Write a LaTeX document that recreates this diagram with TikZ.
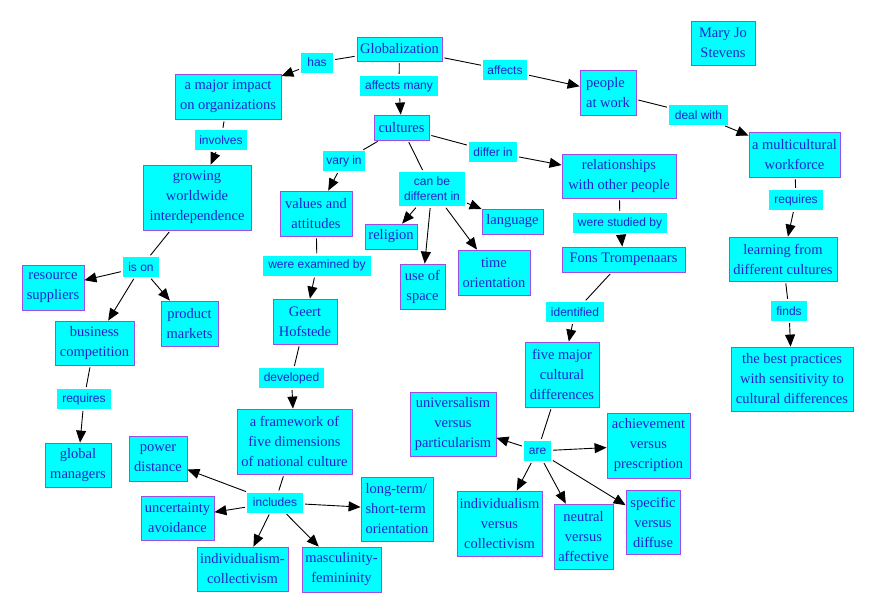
\documentclass[tikz,border=0pt]{standalone}
\usepackage{fontspec}
\setmainfont{Liberation Serif}
\setsansfont{Liberation Sans}
\usetikzlibrary{arrows.meta}
\definecolor{boxfill}{RGB}{0,255,255}
\definecolor{boxline}{RGB}{160,75,230}
\definecolor{txt}{RGB}{35,35,205}
\tikzset{
  concept/.style={draw=boxline, line width=0.8pt, fill=boxfill, text=txt, inner sep=0pt, align=center,
    font=\fontsize{14.5}{20}\selectfont},
  linkph/.style={fill=boxfill, text=txt, inner sep=0pt, minimum height=20pt, align=center,
    font=\sffamily\fontsize{12}{15}\selectfont},
  plain/.style={draw=black, line width=0.9pt, shorten <=2pt, shorten >=2pt},
  arr/.style={draw=black, line width=0.9pt, shorten <=2pt, -{Triangle[length=12pt,width=10pt]}},
  sz/.style n args={2}{minimum width=#1pt, minimum height=#2pt}
}
\begin{document}
\begin{tikzpicture}[x=1pt,y=-1pt]
\useasboundingbox (0,0) rectangle (878,613);
\fill[white] (0,0) rectangle (878,613);
% concepts
\node[concept,sz={85}{24}] (glob) at (399.5,49) {Globalization};
\node[concept,sz={106}{45}] (impact) at (228,96.5) {a major impact\\on organizations};
\node[concept,sz={55}{25}] (cult) at (401.5,127.5) {cultures};
\node[concept,sz={108}{65}] (grow) at (197,197.5) {growing\\worldwide\\interdependence};
\node[concept,sz={72}{45}] (values) at (316,213.5) {values and\\attitudes};
\node[concept,sz={52}{25}] (relig) at (391,236.5) {religion};
\node[concept,sz={61}{25}] (lang) at (512.5,221.5) {language};
\node[concept,sz={45}{45}] (space) at (422.5,286.5) {use of\\space};
\node[concept,sz={72}{45}] (timeo) at (494,272.5) {time\\orientation};
\node[concept,sz={114}{44}] (relat) at (619,176) {relationships\\with other people};
\node[concept,sz={123}{25}] (fons) at (623.5,259.5) {Fons Trompenaars};
\node[concept,sz={56}{45},align=left] (people) at (608,92.5) {people\\at work};
\node[concept,sz={91}{45}] (multi) at (794.5,154.5) {a multicultural\\workforce};
\node[concept,sz={108}{44}] (learn) at (783,259) {learning from\\different cultures};
\node[concept,sz={64}{44}] (mary) at (723,43) {Mary Jo\\Stevens};
\node[concept,sz={122}{64}] (best) at (792,379) {the best practices\\with sensitivity to\\cultural differences};
\node[concept,sz={74}{65}] (five) at (562,374.5) {five major\\cultural\\differences};
\node[concept,sz={86}{64}] (univ) at (453,424) {universalism\\versus\\particularism};
\node[concept,sz={83}{65}] (achiev) at (648.5,445.5) {achievement\\versus\\prescription};
\node[concept,sz={85}{65}] (indvc) at (499.5,523.5) {individualism\\versus\\collectivism};
\node[concept,sz={59}{65}] (neutral) at (583.5,536.5) {neutral\\versus\\affective};
\node[concept,sz={54}{64}] (specific) at (653,522) {specific\\versus\\diffuse};
\node[concept,sz={62}{45}] (resource) at (53,287.5) {resource\\suppliers};
\node[concept,sz={57}{45}] (product) at (189.5,323.5) {product\\markets};
\node[concept,sz={79}{44}] (business) at (94.5,343) {business\\competition};
\node[concept,sz={66}{44}] (global) at (78,465) {global\\managers};
\node[concept,sz={64}{45}] (geert) at (305,321.5) {Geert\\Hofstede};
\node[concept,sz={115}{65}] (frame) at (294.5,441.5) {a framework of\\five dimensions\\of national culture};
\node[concept,sz={58}{45}] (power) at (158,458.5) {power\\distance};
\node[concept,sz={73}{44}] (uncert) at (177.5,518) {uncertainty\\avoidance};
\node[concept,sz={72}{64},align=left] (longt) at (397,509) {long-term/\\short-term\\orientation};
\node[concept,sz={91}{44}] (indcol) at (242.5,569) {individualism-\\collectivism};
\node[concept,sz={79}{45}] (masc) at (341.5,569.5) {masculinity-\\femininity};
% linking phrases
\node[linkph,minimum width=32pt] (has) at (317,62.5) {has};
\node[linkph,minimum width=78pt] (affmany) at (399,86) {affects many};
\node[linkph,minimum width=52pt] (involves) at (221,140) {involves};
\node[linkph,minimum width=42pt] (vary) at (344,161) {vary in};
\node[linkph,minimum width=66pt,minimum height=34pt] (canbe) at (432,189) {can be\\different in};
\node[linkph,minimum width=48pt] (differ) at (493,152) {differ in};
\node[linkph,minimum width=94pt] (studied) at (620,223) {were studied by};
\node[linkph,minimum width=44pt] (affects) at (505,70) {affects};
\node[linkph,minimum width=59pt] (deal) at (698.5,115) {deal with};
\node[linkph,minimum width=54pt] (reqR) at (796,200) {requires};
\node[linkph,minimum width=36pt] (finds) at (789,311) {finds};
\node[linkph,minimum width=58pt] (ident) at (575,312) {identified};
\node[linkph,minimum width=27pt] (are) at (537.5,451) {are};
\node[linkph,minimum width=36pt] (ison) at (141,267) {is on};
\node[linkph,minimum width=54pt] (reqL) at (84,399) {requires};
\node[linkph,minimum width=65pt] (devel) at (291.5,378) {developed};
\node[linkph,minimum width=108pt] (exam) at (317,265.5) {were examined by};
\node[linkph,minimum width=56pt] (incl) at (275,502.5) {includes};
% connectors
\draw[plain] (glob) -- (has);  \draw[arr] (has) -- (impact);
\draw[plain] (glob) -- (affmany);  \draw[arr] (affmany) -- (cult);
\draw[plain] (glob) -- (affects);  \draw[arr] (affects) -- (people);
\draw[plain] (people) -- (deal);  \draw[arr] (deal) -- (multi);
\draw[plain] (multi) -- (reqR);  \draw[arr] (reqR) -- (learn);
\draw[plain] (learn) -- (finds);  \draw[arr] (finds) -- (best);
\draw[plain] (impact) -- (involves);  \draw[arr] (involves) -- (grow);
\draw[plain] (grow) -- (ison);
\draw[arr] (ison) -- (resource);
\draw[arr] (ison) -- (business);
\draw[arr] (ison) -- (product);
\draw[plain] (business) -- (reqL);  \draw[arr] (reqL) -- (global);
\draw[plain] (cult) -- (vary);  \draw[arr] (vary) -- (values);
\draw[plain] (values) -- (exam);  \draw[arr] (exam) -- (geert);
\draw[plain] (geert) -- (devel);  \draw[arr] (devel) -- (frame);
\draw[plain] (frame) -- (incl);
\draw[arr] (incl) -- (power);
\draw[arr] (incl) -- (uncert);
\draw[arr] (incl) -- (indcol);
\draw[arr] (incl) -- (masc);
\draw[arr] (incl) -- (longt);
\draw[plain] (cult) -- (canbe);
\draw[arr] (canbe) -- (relig);
\draw[arr] (canbe) -- (space);
\draw[arr] (canbe) -- (timeo);
\draw[arr] (canbe) -- (lang);
\draw[plain] (cult) -- (differ);  \draw[arr] (differ) -- (relat);
\draw[plain] (relat) -- (studied);  \draw[arr] (studied) -- (fons);
\draw[plain] (fons) -- (ident);  \draw[arr] (ident) -- (five);
\draw[plain] (five) -- (are);
\draw[arr] (are) -- (univ);
\draw[arr] (are) -- (achiev);
\draw[arr] (are) -- (indvc);
\draw[arr] (are) -- (neutral);
\draw[arr] (are) -- (specific);
\end{tikzpicture}
\end{document}
